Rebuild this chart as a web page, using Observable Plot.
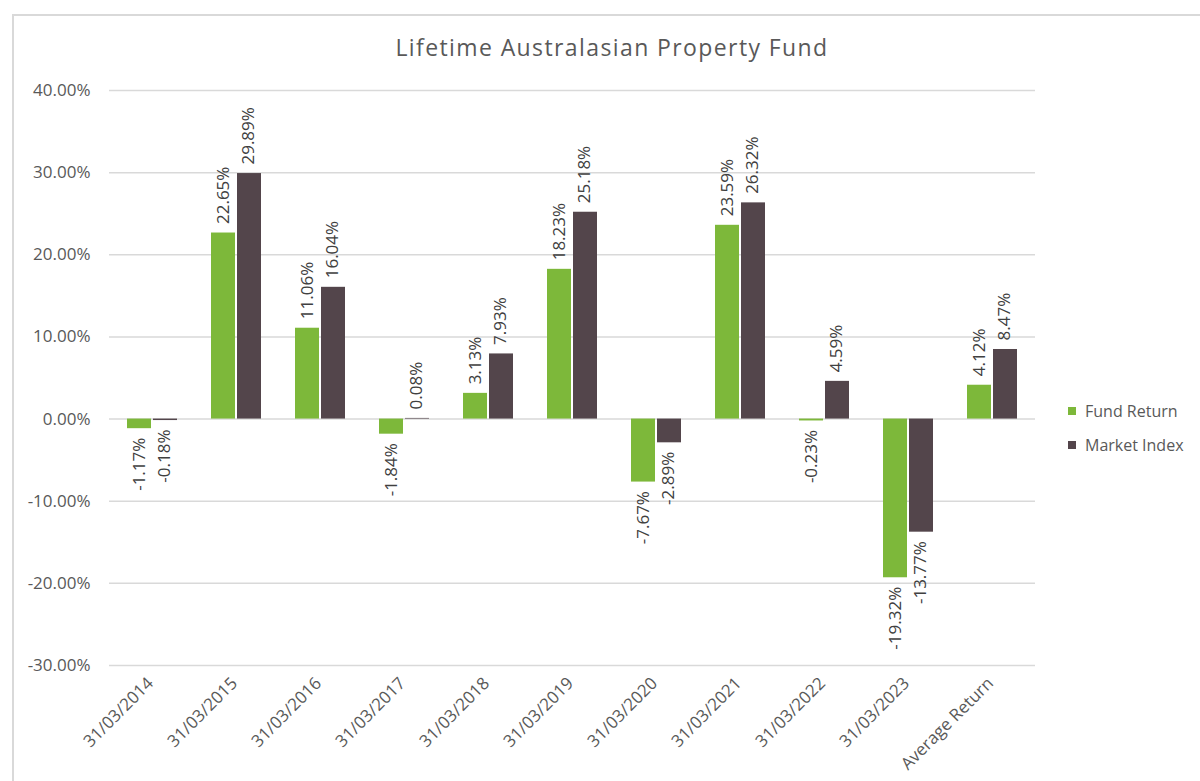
<!DOCTYPE html>
<html><head><meta charset="utf-8">
<script src="https://cdn.jsdelivr.net/npm/d3@7"></script>
<script src="https://cdn.jsdelivr.net/npm/@observablehq/plot@0.6"></script>
<style>
html,body{margin:0;padding:0;background:#fff;}
body{width:1200px;height:781px;overflow:hidden;position:relative;font-family:"Open Sans",sans-serif;}
#frame{position:absolute;left:12px;top:14px;width:1220px;height:800px;border:2px solid #d9d9d9;box-sizing:border-box;}
#title{position:absolute;left:0;top:34px;width:1224px;text-align:center;font-size:23px;letter-spacing:1.4px;line-height:26px;color:#595959;}
#chart{position:absolute;left:0;top:70px;}
#legend{position:absolute;left:1068px;top:400px;font-size:16px;color:#595959;line-height:22px;}
#legend .item{display:flex;align-items:center;height:22px;margin-bottom:12px;}
#legend .sw{width:8px;height:8px;margin-right:9px;}
</style></head>
<body>
<div id="frame"></div>
<div id="title">Lifetime Australasian Property Fund</div>
<div id="chart"></div>
<div id="legend"></div>
<script>
const categories = ["31/03/2014","31/03/2015","31/03/2016","31/03/2017","31/03/2018","31/03/2019","31/03/2020","31/03/2021","31/03/2022","31/03/2023","Average Return"];
const fundReturn = [-1.17, 22.65, 11.06, -1.84, 3.13, 18.23, -7.67, 23.59, -0.23, -19.32, 4.12];
const marketIndex = [-0.18, 29.89, 16.04, 0.08, 7.93, 25.18, -2.89, 26.32, 4.59, -13.77, 8.47];
const seriesNames = ["Fund Return", "Market Index"];
const seriesColors = ["#7db83a", "#53454b"];
const yTicks = [-30, -20, -10, 0, 10, 20, 30, 40];

const fmt = v => v.toFixed(2) + "%";
const fund = categories.map((c, i) => ({cat: c, value: fundReturn[i]}));
const market = categories.map((c, i) => ({cat: c, value: marketIndex[i]}));

const labelStyle = {x: "cat", y: "value", text: d => fmt(d.value), rotate: -90, lineAnchor: "middle", fill: "#404040", fontSize: 17};

const chart = Plot.plot({
  width: 1200, height: 711,
  marginLeft: 109, marginRight: 165, marginTop: 20, marginBottom: 116,
  style: {fontFamily: "'Open Sans', sans-serif", fontSize: "17px", color: "#595959", background: "transparent"},
  x: {domain: categories, padding: 0, label: null},
  y: {domain: [-30, 40], ticks: yTicks, tickFormat: fmt, label: null, tickSize: 0, tickPadding: 19},
  marks: [
    Plot.ruleY(yTicks, {stroke: "#d9d9d9", strokeWidth: 1.5}),
    Plot.axisX({tickSize: 0, tickRotate: -45, tickPadding: 15, dx: -2, label: null}),
    Plot.barY(fund, {x: "cat", y: "value", fill: seriesColors[0], insetLeft: 17, insetRight: 43}),
    Plot.barY(market, {x: "cat", y: "value", fill: seriesColors[1], insetLeft: 43, insetRight: 17}),
    Plot.text(fund.filter(d => d.value >= 0), {...labelStyle, textAnchor: "start", dx: -13, dy: -9}),
    Plot.text(fund.filter(d => d.value < 0), {...labelStyle, textAnchor: "end", dx: -13, dy: 9}),
    Plot.text(market.filter(d => d.value >= 0), {...labelStyle, textAnchor: "start", dx: 12, dy: -9}),
    Plot.text(market.filter(d => d.value < 0), {...labelStyle, textAnchor: "end", dx: 12, dy: 9})
  ]
});
document.getElementById("chart").appendChild(chart);

const legend = document.getElementById("legend");
seriesNames.forEach((name, i) => {
  const item = document.createElement("div");
  item.className = "item";
  const sw = document.createElement("span");
  sw.className = "sw";
  sw.style.background = seriesColors[i];
  const t = document.createElement("span");
  t.textContent = name;
  item.appendChild(sw); item.appendChild(t);
  legend.appendChild(item);
});
</script>
</body></html>
